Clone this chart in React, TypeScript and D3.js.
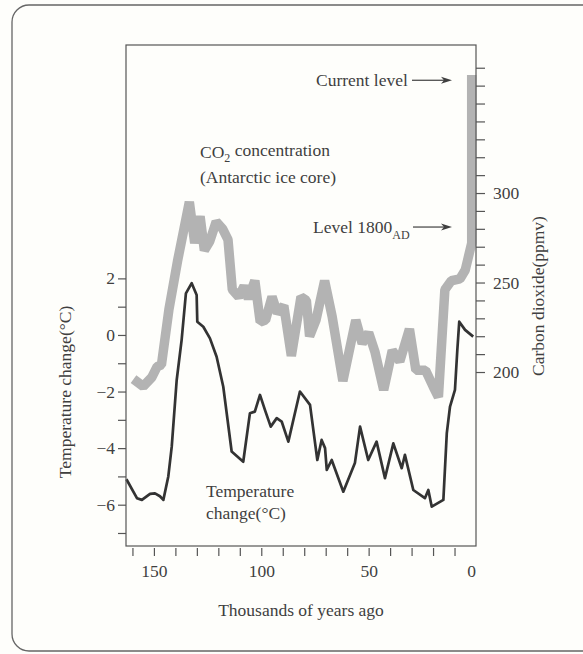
import { useEffect, useRef } from 'react';
import * as d3 from 'd3';

// temperature change, thousands of years ago vs °C
const tempKyr = [162.8, 157.9, 155.6, 151.8, 149.5, 147.2, 145.6, 143.3, 141.7, 139.4, 137.1, 135.1, 132.4, 130.1, 129.8, 127, 123.9, 120.8, 117.7, 113.8, 108.4, 105.3, 103, 100.6, 98.3, 95.6, 92.8, 90.5, 87.4, 82, 77.3, 73.9, 71.9, 70.3, 69.5, 67.2, 61.8, 56.4, 54, 50.2, 46.3, 42.4, 38.5, 34.6, 33.1, 29.2, 23.8, 22.2, 20.6, 15.2, 13.6, 12.1, 9.8, 8.7, 7.8, 5.1, 1.3];
const tempVal = [-5.1, -5.77, -5.83, -5.62, -5.6, -5.7, -5.83, -5.0, -3.95, -1.6, -0.18, 1.47, 1.83, 1.41, 0.47, 0.29, -0.12, -0.77, -1.83, -4.12, -4.48, -2.77, -2.71, -2.12, -2.65, -3.24, -2.94, -3.06, -3.77, -2.0, -2.47, -4.42, -3.71, -4.0, -4.77, -4.42, -5.54, -4.53, -3.24, -4.42, -3.77, -5.06, -3.83, -4.71, -4.24, -5.48, -5.77, -5.48, -6.07, -5.83, -3.47, -2.53, -1.94, -0.53, 0.47, 0.18, -0.06];

// CO2 concentration (Antarctic ice core), ppmv
const co2Kyr = [159.5, 155, 151, 148.5, 146.5, 143, 139, 136, 133.5, 131, 128.5, 126.5, 124, 121, 118, 115.5, 113.5, 110.5, 108, 106, 103, 100.5, 98, 95, 92.5, 89.5, 86, 81.5, 79, 77.5, 74.5, 70.5, 67, 62, 56, 53, 50, 47, 43, 39, 35.5, 31, 28, 23.5, 20, 17.5, 14.5, 11.5, 7.5, 5, 2, 2];
const co2Val = [196, 192, 197, 203, 204, 235, 262, 280, 295, 272, 287, 268, 273, 284, 280, 274, 246, 242, 248, 241, 251, 228, 229, 242, 233, 237, 209, 242, 240, 220, 229, 251, 231, 195, 229, 216, 222, 211, 190, 212, 206, 224, 201, 201, 192, 186, 246, 251, 252, 257, 272, 366];

const xTicks = [160, 150, 140, 130, 120, 110, 100, 90, 80, 70, 60, 50, 40, 30, 20, 10];
const xLabels = [150, 100, 50, 0];
const tempTicks = [-7, -6, -5, -4, -3, -2, -1, 0, 1, 2];
const tempLabels = [-6, -4, -2, 0, 2];
const co2Ticks = [200, 210, 220, 230, 240, 250, 260, 270, 280, 290, 300, 310, 320, 330, 340, 350, 360, 370];
const co2Labels = [200, 250, 300];

const currentLevel = 363;
const level1800 = 281;

const W = 583;
const H = 654;
const FONT = "'Liberation Serif', 'Times New Roman', serif";
const INK = '#3f3f3f';

export default function App() {
    const svgRef = useRef(null);

    useEffect(() => {
        const svg = d3.select(svgRef.current);
        svg.selectAll('*').remove();

        const box = { left: 126, right: 476, top: 45, bottom: 546 };

        const x = d3.scaleLinear().domain([163, 0]).range([box.left, box.right]);
        const yT = d3.scaleLinear().domain([-7.46, 10.25]).range([box.bottom, box.top]);
        const yC = d3.scaleLinear().domain([102.8, 382.7]).range([box.bottom, box.top]);

        svg.append('rect')
            .attr('width', W)
            .attr('height', H)
            .attr('fill', '#fefefb');

        // outer frame with rounded left corners
        svg.append('path')
            .attr('d', `M${W} 5 H29 A17 17 0 0 0 12 22 V634 A17 17 0 0 0 29 651 H${W}`)
            .attr('fill', 'none')
            .attr('stroke', '#666')
            .attr('stroke-width', 1.3);

        // CO2 band
        const co2Data = co2Kyr.map((k, i) => [k, co2Val[i]]);
        svg.append('path')
            .datum(co2Data)
            .attr('fill', 'none')
            .attr('stroke', '#b3b3b3')
            .attr('stroke-width', 9.5)
            .attr('stroke-linejoin', 'bevel')
            .attr('d', d3.line().x(d => x(d[0])).y(d => yC(d[1])));

        // temperature line
        const tempData = tempKyr.map((k, i) => [k, tempVal[i]]);
        svg.append('path')
            .datum(tempData)
            .attr('fill', 'none')
            .attr('stroke', '#333')
            .attr('stroke-width', 2.7)
            .attr('stroke-linejoin', 'round')
            .attr('d', d3.line().x(d => x(d[0])).y(d => yT(d[1])));

        // plot box
        svg.append('rect')
            .attr('x', box.left)
            .attr('y', box.top)
            .attr('width', box.right - box.left)
            .attr('height', box.bottom - box.top)
            .attr('fill', 'none')
            .attr('stroke', '#555')
            .attr('stroke-width', 1.2);

        const styleAxis = (g) => {
            g.select('.domain').remove();
            g.selectAll('line').attr('stroke', '#555').attr('stroke-width', 1.2);
            g.selectAll('text')
                .attr('fill', INK)
                .style('font-family', FONT)
                .style('font-size', '17.5px');
        };

        svg.append('g')
            .attr('transform', `translate(${box.left},0)`)
            .call(d3.axisLeft(yT)
                .tickValues(tempTicks)
                .tickSize(8)
                .tickPadding(3)
                .tickFormat(d => tempLabels.includes(d) ? d3.format('d')(d) : ''))
            .call(styleAxis);

        svg.append('g')
            .attr('transform', `translate(${box.right},0)`)
            .call(d3.axisRight(yC)
                .tickValues(co2Ticks)
                .tickSize(9)
                .tickPadding(8)
                .tickFormat(d => co2Labels.includes(d) ? String(d) : ''))
            .call(styleAxis);

        svg.append('g')
            .attr('transform', `translate(0,${box.bottom + 2})`)
            .call(d3.axisBottom(x)
                .tickValues(xTicks)
                .tickSize(8)
                .tickFormat(''))
            .call(styleAxis);

        const xl = svg.append('g')
            .attr('transform', `translate(0,${box.bottom + 2})`)
            .call(d3.axisBottom(x)
                .tickValues(xLabels)
                .tickSize(0)
                .tickPadding(17)
                .tickFormat(d => String(d)))
            .call(styleAxis);
        // the zero sits just inside the corner in the original
        xl.selectAll('text').filter(d => d === 0).attr('dx', -5);

        const label = (tx, ty, str, anchor = 'start', rotate = false) => {
            const t = svg.append('text')
                .attr('x', rotate ? 0 : tx)
                .attr('y', rotate ? 0 : ty)
                .attr('dy', '0.35em')
                .attr('text-anchor', anchor)
                .attr('fill', INK)
                .style('font-family', FONT)
                .style('font-size', '17.5px')
                .text(str);
            if (rotate) t.attr('transform', `translate(${tx},${ty}) rotate(-90)`);
            return t;
        };

        label(65, 392, 'Temperature change(°C)', 'middle', true);
        label(538, 296, 'Carbon dioxide(ppmv)', 'middle', true);
        label(301, 610, 'Thousands of years ago', 'middle');

        const co2 = label(200, 152, 'CO');
        co2.append('tspan').attr('dy', '0.3em').style('font-size', '12px').text('2');
        co2.append('tspan').attr('dy', '-0.3em').text(' concentration');
        label(200, 177, '(Antarctic ice core)');

        label(206, 491, 'Temperature');
        label(206, 513, 'change(°C)');

        const arrow = (x0, x1, yy) => {
            svg.append('line')
                .attr('x1', x0).attr('x2', x1 - 8)
                .attr('y1', yy).attr('y2', yy)
                .attr('stroke', INK).attr('stroke-width', 1.2);
            svg.append('path')
                .attr('d', `M${x1} ${yy} L${x1 - 11} ${yy - 3.5} L${x1 - 8} ${yy} L${x1 - 11} ${yy + 3.5} Z`)
                .attr('fill', INK);
        };

        const cy = yC(currentLevel);
        label(316, cy, 'Current level');
        arrow(412, 452, cy);

        const ly = yC(level1800);
        const lv = label(313, ly, 'Level 1800');
        lv.append('tspan').attr('dy', '0.45em').style('font-size', '12px').text('AD');
        arrow(413, 452, ly);
    }, []);

    return (
        <svg
            ref={svgRef}
            width={W}
            height={H}
            style={{ position: 'absolute', left: 0, top: 0 }}
        />
    );
}
